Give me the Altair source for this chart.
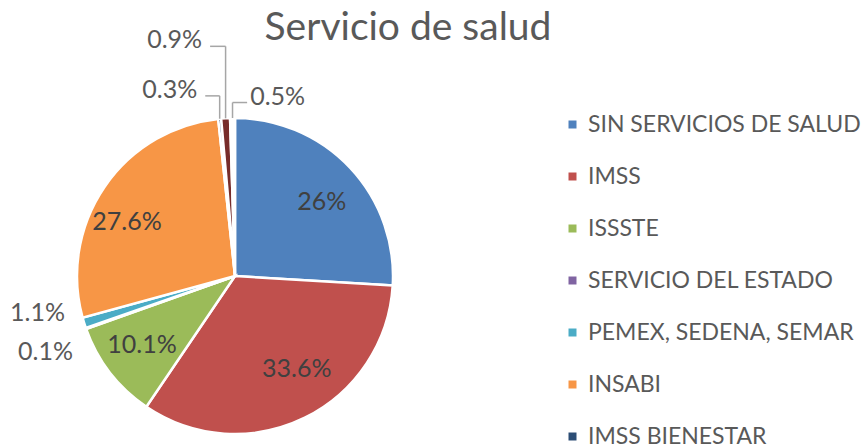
import altair as alt
import pandas as pd

# ---- data ----
categories = ["SIN SERVICIOS DE SALUD", "IMSS", "ISSSTE", "SERVICIO DEL ESTADO",
              "PEMEX, SEDENA, SEMAR", "INSABI", "IMSS BIENESTAR", "OTRO", "NO ESPECIFICADO"]
values = [26, 33.6, 10.1, 0.1, 1.1, 27.6, 0.3, 0.9, 0.5]
colors = ["#4F81BD", "#C0504D", "#9BBB59", "#8064A2", "#4BACC6", "#F79646",
          "#2C4D75", "#772C2A", "#FFFFFF"]
legend_items = categories[:7]

# ---- label layout (placement mode and pixel nudges from the natural anchor) ----
label_mode = ["in", "in", "in", "left", "left", "in", "left", "left", "right"]
label_dx = [3, 11, -2, 10.6, 4.8, -13, -20, -22, 18]
label_dy = [5, -10, -1, 15.2, -17.1, 11, -4, -53, 3.5]
leader = [0, 0, 0, 0, 0, 0, 1, 1, 1]

CX, CY, R = 235, 276, 158
FONT = "Lato"

df = pd.DataFrame({
    "cat": categories, "value": values, "idx": list(range(len(categories))),
    "mode": label_mode, "dx": label_dx, "dy": label_dy, "leader": leader,
})

base = alt.Chart(df)

pie = base.mark_arc(radius=R, stroke="white", strokeWidth=2.5).encode(
    theta=alt.Theta("value:Q", stack=True),
    color=alt.Color(
        "cat:N",
        sort=categories,
        scale=alt.Scale(domain=categories, range=colors),
        legend=alt.Legend(
            values=legend_items, title=None, orient="none", direction="vertical",
            legendX=561, legendY=113, symbolType="square", symbolSize=64,
            symbolStrokeWidth=0, labelFont=FONT, labelFontSize=23,
            labelColor="#595959", labelOffset=4, rowPadding=28, padding=0,
            labelLimit=400,
        ),
    ),
    order=alt.Order("idx:Q", sort="ascending"),
    x=alt.value(CX),
    y=alt.value(CY),
)

lab = base.transform_window(
    cum="sum(value)", sort=[alt.SortField("idx", order="ascending")], frame=[None, 0]
).transform_joinaggregate(
    total="sum(value)"
).transform_calculate(
    a="2*PI*(datum.cum - datum.value/2)/datum.total",
).transform_calculate(
    r="datum.mode == 'in' ? 115 : 183",
).transform_calculate(
    lx=f"{CX} + datum.r*sin(datum.a) + datum.dx",
    ly=f"{CY} - datum.r*cos(datum.a) + datum.dy",
    ex=f"{CX} + {R}*sin(datum.a)",
    ey=f"{CY} - {R}*cos(datum.a)",
    txt="datum.value + '%'",
).transform_calculate(
    ly2="datum.ly + 6",
    lend="datum.mode == 'left' ? datum.lx + 8 : datum.lx - 3",
)

X = alt.X("lx:Q", scale=None, axis=None)
Y = alt.Y("ly:Q", scale=None, axis=None)

inner = lab.transform_filter("datum.mode == 'in'").mark_text(
    align="center", baseline="middle", font=FONT, fontSize=25, color="#404040"
).encode(x=X, y=Y, text="txt:N")

left = lab.transform_filter("datum.mode == 'left'").mark_text(
    align="right", baseline="middle", font=FONT, fontSize=25, color="#595959"
).encode(x=X, y=Y, text="txt:N")

right = lab.transform_filter("datum.mode == 'right'").mark_text(
    align="left", baseline="middle", font=FONT, fontSize=25, color="#595959"
).encode(x=X, y=Y, text="txt:N")

leaders = lab.transform_filter("datum.leader == 1")
lead_v = leaders.mark_rule(color="#A6A6A6", strokeWidth=1.5).encode(
    x=alt.X("ex:Q", scale=None, axis=None),
    y=alt.Y("ey:Q", scale=None, axis=None),
    y2="ly2:Q",
)
lead_h = leaders.mark_rule(color="#A6A6A6", strokeWidth=1.5).encode(
    x=alt.X("ex:Q", scale=None, axis=None),
    x2="lend:Q",
    y=alt.Y("ly2:Q", scale=None, axis=None),
)

title = alt.Chart(pd.DataFrame({"t": ["Servicio de salud"]})).mark_text(
    align="center", baseline="alphabetic", font=FONT, fontSize=39, color="#595959"
).encode(x=alt.value(408), y=alt.value(40), text="t:N")

chart = alt.layer(pie, lead_v, lead_h, inner, left, right, title).properties(
    width=866, height=445, autosize=alt.AutoSizeParams(type="none"), padding=0
).configure_view(stroke=None)

chart.save("out.html", embed_options={"renderer": "svg", "actions": False})
